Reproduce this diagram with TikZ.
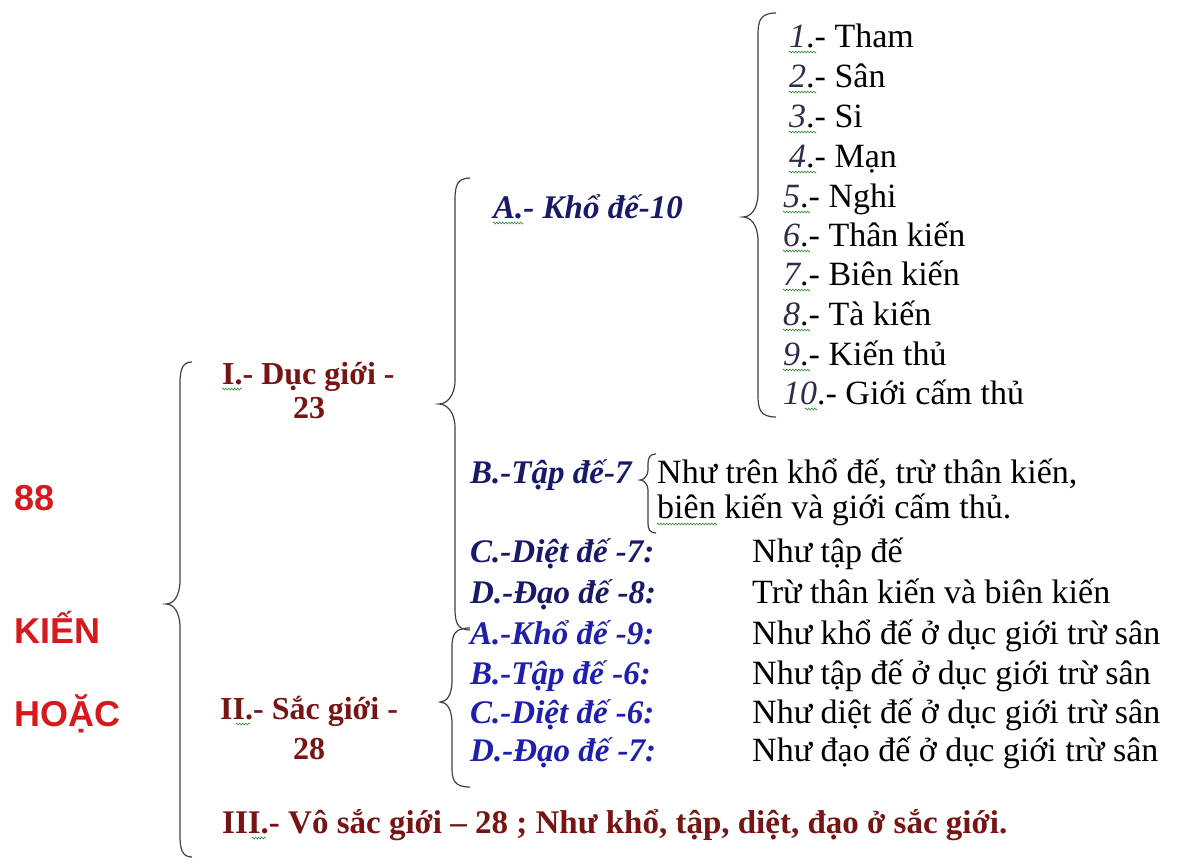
\documentclass[tikz,border=0pt]{standalone}
\usepackage{fontspec}
\setmainfont{Liberation Serif}
\newfontfamily\redsans{Liberation Sans}
\usetikzlibrary{decorations.pathmorphing}
\definecolor{navyc}{RGB}{25,25,105}
\definecolor{bluec}{RGB}{30,30,175}
\definecolor{dredc}{RGB}{120,20,20}
\definecolor{redc}{RGB}{215,25,30}
\definecolor{numc}{RGB}{45,45,75}
\definecolor{wavc}{RGB}{60,150,60}
\newcommand\itemnum[1]{{\color{numc}\itshape #1}}
% #1 x of ends, #2 y top, #3 y bottom, #4 x of body, #5 x of tip, #6 y of tip, #7 curl scale
\newcommand\mybrace[7]{%
  \draw[brc] (#1,#2) .. controls (#4+2,#2) and (#4,#2+8*#7) .. (#4,#2+22*#7)
    -- (#4,#6-24*#7) .. controls (#4,#6-7*#7) and (#5+7*#7,#6) .. (#5,#6)
    .. controls (#5+7*#7,#6) and (#4,#6+7*#7) .. (#4,#6+24*#7)
    -- (#4,#3-22*#7) .. controls (#4,#3-8*#7) and (#4+2,#3) .. (#1,#3);}
\tikzset{
  brc/.style={draw=black!75, line width=1.2pt},
  base/.style={anchor=base west, inner sep=0pt},
  txt/.style={base, font=\fontsize{34}{40}\selectfont},
  roman/.style={base, text=dredc, font=\fontsize{32}{38}\selectfont\bfseries},
  dlab/.style={base, text=navyc, font=\fontsize{33}{40}\selectfont\bfseries\itshape},
  slab/.style={base, text=bluec, font=\fontsize{33}{40}\selectfont\bfseries\itshape},
  bigred/.style={base, text=redc, font=\fontsize{36}{42}\selectfont\redsans\bfseries},
  wavy/.style={draw=wavc, line width=0.6pt, decorate,
    decoration={zigzag, amplitude=1pt, segment length=3pt}},
}
\begin{document}
\begin{tikzpicture}[x=1pt,y=-1pt]
\fill[white] (0,0) rectangle (1179,865);
\useasboundingbox (0,0) rectangle (1179,865);

% left title
\node[bigred] (t88) at (14,510) {88};
\node[bigred] (tkien) at (14,643) {KIẾN};
\node[bigred] (thoac) at (14,726) {HOẶC};

% braces
\mybrace{192}{362}{857}{180}{166}{604}{1}
\mybrace{470}{178}{630}{455}{439}{404}{1}
\mybrace{470}{628}{787}{452}{440}{702}{0.9}
\mybrace{776}{13}{417}{758}{743}{217}{1}
\mybrace{656}{454}{533}{648}{640}{480}{0.45}

% roman labels
\node[roman] (r1) at (222,384) {I.- Dục giới -};
\node[roman] (r1n) at (293,418) {23};
\node[roman] (r2) at (220,719) {II.- Sắc giới -};
\node[roman] (r2n) at (293,759) {28};
\node[roman, font=\fontsize{33}{38}\selectfont\bfseries] (r3) at (222,833) {III.- Vô sắc giới – 28 ; Như khổ, tập, diệt, đạo ở sắc giới.};

% duc gioi labels
\node[dlab] (a10) at (493,218) {A.- Khổ đế-10};
\node[dlab] (b7) at (470,483) {B.-Tập đế-7};
\node[dlab] (c7) at (470,562) {C.-Diệt đế -7:};
\node[dlab] (d8) at (470,603) {D.-Đạo đế -8:};
% sac gioi labels
\node[slab] (a9) at (470,644) {A.-Khổ đế -9:};
\node[slab] (b6) at (470,684) {B.-Tập đế -6:};
\node[slab] (c6) at (470,723) {C.-Diệt đế -6:};
\node[slab] (d7) at (470,761) {D.-Đạo đế -7:};

% explanations
\node[txt] (eb1) at (657,483) {Như trên khổ đế, trừ thân kiến,};
\node[txt] (eb2) at (657,518) {biên kiến và giới cấm thủ.};
\node[txt] (ec7) at (752,562) {Như tập đế};
\node[txt] (ed8) at (752,603) {Trừ thân kiến và biên kiến};
\node[txt] (ea9) at (752,644) {Như khổ đế ở dục giới trừ sân};
\node[txt] (eb6) at (752,684) {Như tập đế ở dục giới trừ sân};
\node[txt] (ec6) at (752,723) {Như diệt đế ở dục giới trừ sân};
\node[txt] (ed7) at (752,761) {Như đạo đế ở dục giới trừ sân};

% list of 10
\node[txt] (l1) at (789,47) {\itemnum{1}.- Tham};
\node[txt] (l2) at (789,87) {\itemnum{2}.- Sân};
\node[txt] (l3) at (789,127) {\itemnum{3}.- Si};
\node[txt] (l4) at (789,167) {\itemnum{4}.- Mạn};
\node[txt] (l5) at (783,207) {\itemnum{5}.- Nghi};
\node[txt] (l6) at (783,246) {\itemnum{6}.- Thân kiến};
\node[txt] (l7) at (783,285) {\itemnum{7}.- Biên kiến};
\node[txt] (l8) at (783,325) {\itemnum{8}.- Tà kiến};
\node[txt] (l9) at (783,365) {\itemnum{9}.- Kiến thủ};
\node[txt] (l10) at (783,404) {\itemnum{10}.- Giới cấm thủ};

% spell-check wavy underlines
\foreach \n in {l1,l2,l3,l4,l5,l6,l7,l8,l9}
  \draw[wavy] ([yshift=-5pt]\n.base west) -- ++(27,0);
\draw[wavy] ([xshift=22pt,yshift=-5pt]l10.base west) -- ++(12,0);
\draw[wavy] ([yshift=-5pt]a10.base west) -- ++(30,0);
\draw[wavy] ([yshift=-5pt]r1.base west) -- ++(20,0);
\draw[wavy] ([xshift=16pt,yshift=-5pt]r2.base west) -- ++(14,0);
\draw[wavy] ([xshift=30pt,yshift=-5pt]r3.base west) -- ++(14,0);
\draw[wavy] ([yshift=-6pt]eb2.base west) -- ++(60,0);
\end{tikzpicture}
\end{document}
